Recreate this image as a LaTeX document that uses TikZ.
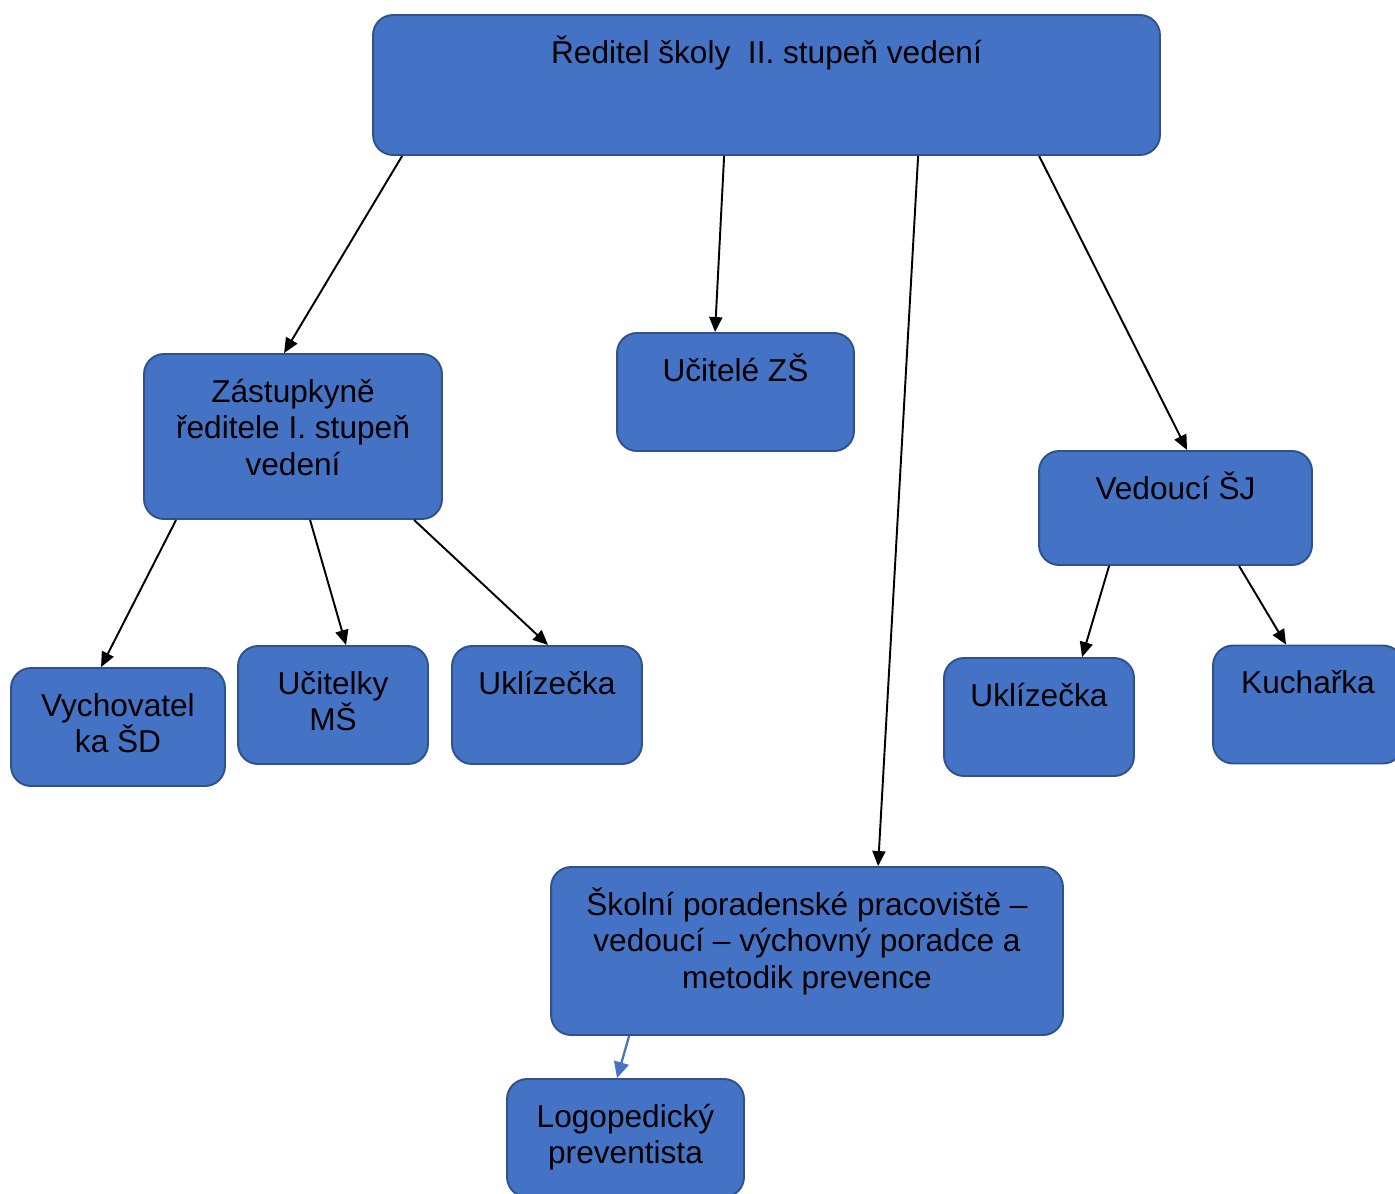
\documentclass[tikz,border=0pt]{standalone}
\usepackage{fontspec}
\setmainfont{Liberation Sans}
\usetikzlibrary{arrows.meta, calc, positioning}
\definecolor{boxfill}{HTML}{4472C4}
\definecolor{boxline}{HTML}{2F528F}
% text sits at the top of each box
\newcommand{\boxtext}[3]{\parbox[c][#2][t]{#1}{\centering\rule{0pt}{0.96cm}#3\par}}

\begin{document}
\begin{tikzpicture}[x=0.02cm,y=-0.02cm,
         box/.style={rectangle,draw=boxline,fill=boxfill,line width=1.1pt,
           rounded corners=0.4cm,inner sep=0pt,font=\fontsize{18pt}{21pt}\selectfont},
         arr/.style={line width=1.1pt,-{Triangle[length=0.3cm,width=0.26cm]}}]
 \clip (0,0) rectangle (1395,1193);

       \node[box] (reditel) at (766.5,85) {\boxtext{15.74cm}{2.8cm}{Ředitel školy~~II. stupeň vedení}};
       \node[box] (zast) at (293,436.5) {\boxtext{5.96cm}{3.3cm}{Zástupkyně\\ředitele I. stupeň\\vedení}};
       \node[box] (ucitele) at (735.5,392) {\boxtext{4.74cm}{2.36cm}{Učitelé ZŠ}};
       \node[box] (vedouci) at (1175.5,508) {\boxtext{5.46cm}{2.28cm}{Vedoucí ŠJ}};
       \node[box] (vychov) at (118,727) {\boxtext{4.28cm}{2.36cm}{Vychovatel\\ka ŠD}};
       \node[box] (ucitelky) at (333,705) {\boxtext{3.8cm}{2.36cm}{Učitelky\\MŠ}};
       \node[box] (uklid1) at (547,705) {\boxtext{3.8cm}{2.36cm}{Uklízečka}};
       \node[box] (uklid2) at (1039,717) {\boxtext{3.8cm}{2.36cm}{Uklízečka}};
       \node[box] (kucharka) at (1308,704.5) {\boxtext{3.8cm}{2.36cm}{Kuchařka}};
       \node[box] (poradna) at (807,951) {\boxtext{10.24cm}{3.36cm}{Školní poradenské pracoviště –\\vedoucí – výchovný poradce a\\metodik prevence}};
       \node[box] (logoped) at (625.5,1138) {\boxtext{4.74cm}{2.36cm}{Logopedický\\preventista}};

       \foreach \s/\a/\t/\b in {reditel/30/zast/141, reditel/352/ucitele/99,
           reditel/546/poradna/328, reditel/667/vedouci/149,
           zast/33/vychov/91, zast/167/ucitelky/109, zast/271/uklid1/97,
           vedouci/71/uklid2/139, vedouci/201/kucharka/74} {
        \draw[arr] ($(\s.south west)+(\a,0)$) -- ($(\t.north west)+(\b,0)$);}
       \draw[boxfill,line width=1.3pt,-{Triangle[length=0.32cm,width=0.3cm]}] ($(poradna.south west)+(79,0)$) -- ($(logoped.north west)+(111,0)$);
      \end{tikzpicture}
\end{document}
